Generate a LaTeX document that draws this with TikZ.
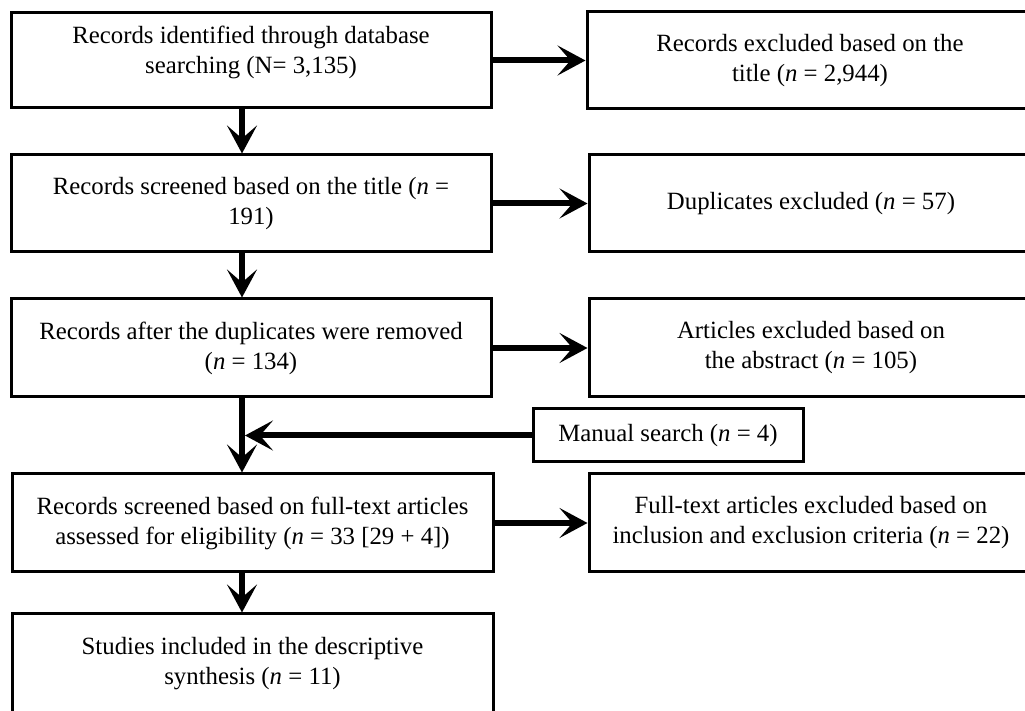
\documentclass[tikz,border=0pt]{standalone}
\usepackage{fontspec}
\setmainfont{Liberation Serif}
\usetikzlibrary{arrows.meta}
\begin{document}
\begin{tikzpicture}[x=0.5pt,y=-0.5pt,
  box/.style={draw, line width=1.5pt, align=center, inner sep=0pt,
    font=\fontsize{12.4}{15}\selectfont},
  arr/.style={line width=3pt, -{Stealth[length=14pt,width=15pt,inset=6.5pt]}}]
\useasboundingbox (0,0) rectangle (1025,711);
\fill[white] (0,0) rectangle (1025,711);
\clip (0,0) rectangle (1025,711);
\coordinate (ax) at (242,0);
% left column
\node[box, minimum width=240pt, minimum height=47.5pt] (L1) at (251,60.5)
  {Records identified through database\\ searching (N= 3,135)\rule[-10.5pt]{0pt}{10.5pt}};
\node[box, minimum width=240pt, minimum height=48.5pt] (L2) at (251,203.5)
  {Records screened based on the title (\textit{n} =\\ 191)};
\node[box, minimum width=240pt, minimum height=49pt] (L3) at (251,348)
  {Records after the duplicates were removed\\ (\textit{n} = 134)};
\node[box, minimum width=240.5pt, minimum height=49pt] (L4) at (252.5,523)
  {Records screened based on full-text articles\\ assessed for eligibility (\textit{n} = 33 [29 + 4])};
\node[box, minimum width=240.5pt, minimum height=50pt] (L5) at (252.5,664)
  {Studies included in the descriptive\\ synthesis (\textit{n} = 11)};
% right column
\node[box, minimum width=223pt, minimum height=48.5pt] (R1) at (810,60.5)
  {Records excluded based on the\\ title (\textit{n} = 2,944)};
\node[box, minimum width=222pt, minimum height=48.5pt] (R2) at (811,203.5)
  {Duplicates excluded (\textit{n} = 57)};
\node[box, minimum width=222pt, minimum height=49pt] (R3) at (811,348)
  {Articles excluded based on\\ the abstract (\textit{n} = 105)};
\node[box, minimum width=135pt, minimum height=26.5pt] (M) at (668,435.5)
  {Manual search (\textit{n} = 4)};
\node[box, minimum width=222pt, minimum height=49pt] (R4) at (811,523)
  {Full-text articles excluded based on\\ inclusion and exclusion criteria (\textit{n} = 22)};
% connectors
\draw[arr] (L1.south -| ax) -- (L2.north -| ax);
\draw[arr] (L2.south -| ax) -- (L3.north -| ax);
\draw[arr] (L3.south -| ax) -- (L4.north -| ax);
\draw[arr] (L4.south -| ax) -- (L5.north -| ax);
\draw[arr] (L1.east) -- (R1.west);
\draw[arr] (L2.east) -- (R2.west);
\draw[arr] (L3.east) -- (R3.west);
\draw[arr] (L4.east) -- (R4.west);
\draw[arr] (M.west) -- ([xshift=1.5pt]M.west -| ax);
\end{tikzpicture}
\end{document}
